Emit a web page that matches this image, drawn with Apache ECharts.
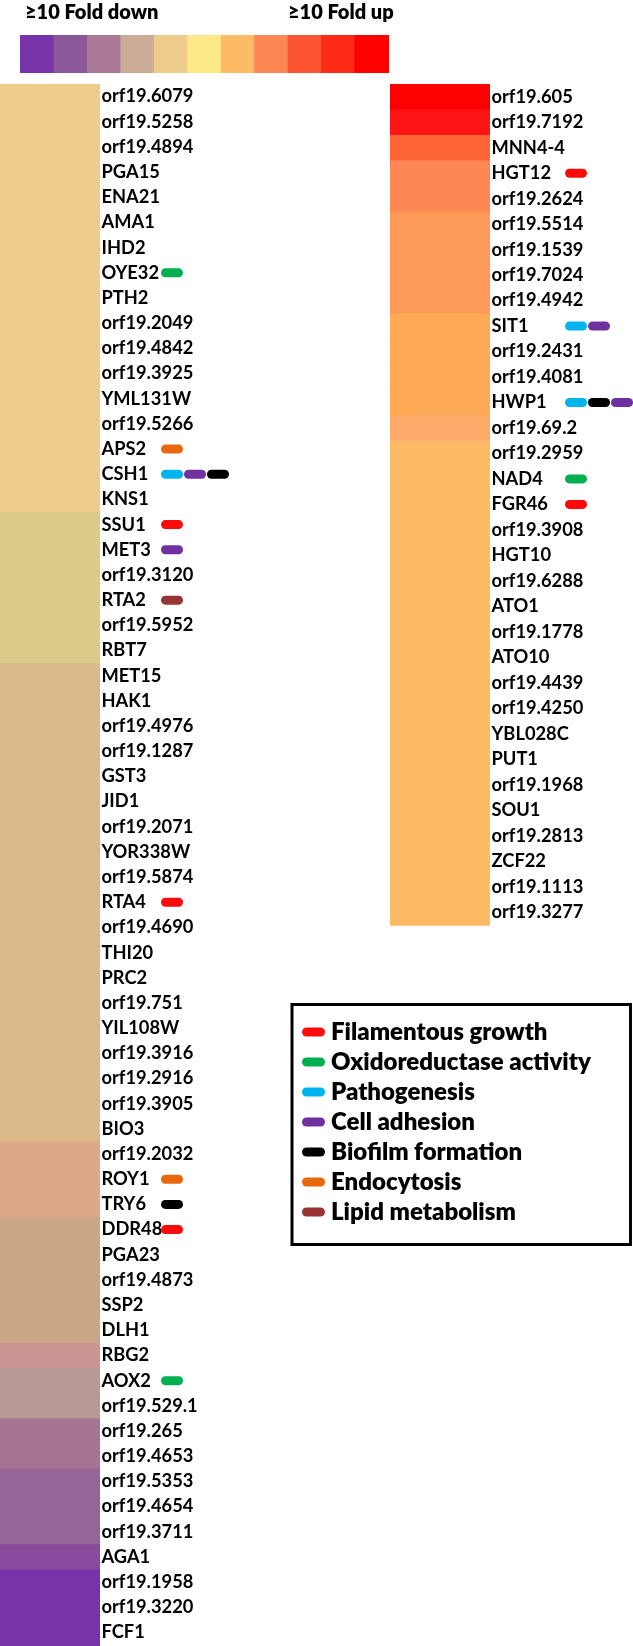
<!DOCTYPE html>
<html><head><meta charset="utf-8">
<script src="https://cdn.jsdelivr.net/npm/echarts@6/dist/echarts.min.js"></script>
<style>html,body{margin:0;padding:0;background:#fff}#c{width:633px;height:1646px}</style>
</head><body><div id="c"></div>
<script>
// ---- data ----
const scaleLevels = [-5,-4,-3,-2,-1,0,1,2,3,4,5];
const scaleTitles = ['≥10 Fold down','≥10 Fold up'];

const leftGenes = ['orf19.6079','orf19.5258','orf19.4894','PGA15','ENA21','AMA1','IHD2','OYE32','PTH2','orf19.2049','orf19.4842','orf19.3925','YML131W','orf19.5266','APS2','CSH1','KNS1','SSU1','MET3','orf19.3120','RTA2','orf19.5952','RBT7','MET15','HAK1','orf19.4976','orf19.1287','GST3','JID1','orf19.2071','YOR338W','orf19.5874','RTA4','orf19.4690','THI20','PRC2','orf19.751','YIL108W','orf19.3916','orf19.2916','orf19.3905','BIO3','orf19.2032','ROY1','TRY6','DDR48','PGA23','orf19.4873','SSP2','DLH1','RBG2','AOX2','orf19.529.1','orf19.265','orf19.4653','orf19.5353','orf19.4654','orf19.3711','AGA1','orf19.1958','orf19.3220','FCF1'];
const leftValues = [-1,-1,-1,-1,-1,-1,-1,-1,-1,-1,-1,-1,-1,-1,-1,-1,-1,
  -1.2,-1.2,-1.2,-1.2,-1.2,-1.2,
  -1.5,-1.5,-1.5,-1.5,-1.5,-1.5,-1.5,-1.5,-1.5,-1.5,-1.5,-1.5,-1.5,-1.5,-1.5,-1.5,-1.5,-1.5,-1.5,
  -1.7,-1.7,-1.7,
  -2.1,-2.1,-2.1,-2.1,-2.1,
  -2.4,
  -2.6,-2.6,
  -3.1,-3.1,
  -3.6,-3.6,-3.6,
  -4.3,
  -5,-5,-5];

const rightGenes = ['orf19.605','orf19.7192','MNN4-4','HGT12','orf19.2624','orf19.5514','orf19.1539','orf19.7024','orf19.4942','SIT1','orf19.2431','orf19.4081','HWP1','orf19.69.2','orf19.2959','NAD4','FGR46','orf19.3908','HGT10','orf19.6288','ATO1','orf19.1778','ATO10','orf19.4439','orf19.4250','YBL028C','PUT1','orf19.1968','SOU1','orf19.2813','ZCF22','orf19.1113','orf19.3277'];
const rightValues = [5,4.5,2.7,2,2,1.6,1.6,1.6,1.6,1.4,1.4,1.4,1.4,1.2,
  1,1,1,1,1,1,1,1,1,1,1,1,1,1,1,1,1,1,1];

const categories = ['Filamentous growth','Oxidoreductase activity','Pathogenesis','Cell adhesion','Biofilm formation','Endocytosis','Lipid metabolism'];
const leftAnnotations = {
  'OYE32':['Oxidoreductase activity'],
  'APS2':['Endocytosis'],
  'CSH1':['Pathogenesis','Cell adhesion','Biofilm formation'],
  'SSU1':['Filamentous growth'],
  'MET3':['Cell adhesion'],
  'RTA2':['Lipid metabolism'],
  'RTA4':['Filamentous growth'],
  'ROY1':['Endocytosis'],
  'TRY6':['Biofilm formation'],
  'DDR48':['Filamentous growth'],
  'AOX2':['Oxidoreductase activity']
};
const rightAnnotations = {
  'HGT12':['Filamentous growth'],
  'SIT1':['Pathogenesis','Cell adhesion'],
  'HWP1':['Pathogenesis','Biofilm formation','Cell adhesion'],
  'NAD4':['Oxidoreductase activity'],
  'FGR46':['Filamentous growth']
};

// ---- styles ----
const catColors = {
  'Filamentous growth':'#FF0A0A','Oxidoreductase activity':'#00B050','Pathogenesis':'#00B4F0',
  'Cell adhesion':'#7030A0','Biofilm formation':'#000000','Endocytosis':'#E8690C','Lipid metabolism':'#983434'
};
const levelColors = [
  [-5,'#7733AA'],[-4.3,'#884A9C'],[-4,'#8A5798'],[-3.6,'#95659A'],[-3.1,'#A67594'],[-3,'#A87895'],
  [-2.6,'#B79995'],[-2.4,'#C99492'],[-2.1,'#C8A686'],[-2,'#CCAA98'],[-1.7,'#DDA887'],[-1.5,'#DBB98A'],
  [-1.2,'#DBCB8B'],[-1,'#EECC8C'],[0,'#FDE98A'],[1,'#FDBB66'],[1.2,'#FDAA6A'],[1.4,'#FDA955'],
  [1.6,'#FD9A58'],[2,'#FD8855'],[2.7,'#FD6436'],[3,'#FD5533'],[4,'#FD2A18'],[4.5,'#FD1515'],[5,'#FF0000']
];
const FONT = 'Lato';
const pill = 'path://M4.5,0H18.5A4.5,4.5,0,0,1,18.5,9H4.5A4.5,4.5,0,0,1,4.5,0Z';

const chart = echarts.init(document.getElementById('c'), null, {renderer:'canvas'});

const RROW = 25.48;
const grids = [
  {left:0, top:84, width:100, height:1561},                 // 0 left heatmap
  {left:172, top:84, width:46, height:1561},                // 1 left markers
  {left:390, top:84, width:100, height:33*RROW},            // 2 right heatmap
  {left:576, top:84, width:46, height:33*RROW},             // 3 right markers
  {left:20, top:35, width:368, height:38}                   // 4 scale bar
];
const hidden = {show:false};
const catY = (data, gi, showLabels) => ({
  type:'category', data, inverse:true, gridIndex:gi, position:'right',
  axisLine:hidden, axisTick:hidden, splitLine:hidden,
  axisLabel: showLabels ? {show:true, interval:0, margin:1.5, fontFamily:FONT, fontWeight:'bold', fontSize:18.3, color:'#000'} : hidden
});
const xAxes = [
  {type:'category', data:['v'], gridIndex:0, show:false},
  {type:'value', min:0, max:2, gridIndex:1, show:false},
  {type:'category', data:['v'], gridIndex:2, show:false},
  {type:'value', min:0, max:2, gridIndex:3, show:false},
  {type:'category', data:scaleLevels.map(String), gridIndex:4, show:false}
];
const yAxes = [
  catY(leftGenes,0,true), catY(leftGenes,1,false),
  catY(rightGenes,2,true), catY(rightGenes,3,false),
  {type:'category', data:['s'], gridIndex:4, show:false}
];

// cell renderer: a rect per category cell, overlapping by 1px to avoid seams
function cell(horizontal){
  return function(params, api){
    const c = api.coord([api.value(0), api.value(1)]);
    const s = api.size([1,1]);
    return {type:'rect',
      shape:{x:c[0]-s[0]/2, y:c[1]-s[1]/2, width:s[0]+(horizontal?1:0), height:s[1]+(horizontal?0:1)},
      style:{fill:api.visual('color')}};
  };
}
const series = [
  {type:'custom', xAxisIndex:0, yAxisIndex:0, renderItem:cell(false), data:leftGenes.map((g,i)=>[0,i,leftValues[i]]), encode:{x:0,y:1}},
  {type:'custom', xAxisIndex:2, yAxisIndex:2, renderItem:cell(false), data:rightGenes.map((g,i)=>[0,i,rightValues[i]]), encode:{x:0,y:1}},
  {type:'custom', xAxisIndex:4, yAxisIndex:4, renderItem:cell(true), data:scaleLevels.map((v,i)=>[i,0,v]), encode:{x:0,y:1}}
];
function markerSeries(ann, xi, yi){
  categories.forEach(cat=>{
    const data=[];
    Object.keys(ann).forEach(g=>{ ann[g].forEach((c,k)=>{ if(c===cat) data.push([k,g]); }); });
    series.push({type:'scatter', name:cat, xAxisIndex:xi, yAxisIndex:yi, data,
      symbol:pill, symbolSize:[22,9], itemStyle:{color:catColors[cat], opacity:1}, silent:true});
  });
}
markerSeries(leftAnnotations,1,1);
markerSeries(rightAnnotations,3,3);

chart.setOption({
  animation:false,
  grid:grids, xAxis:xAxes, yAxis:yAxes, series,
  visualMap:{type:'piecewise', show:false, seriesIndex:[0,1,2], dimension:2,
    pieces:levelColors.map(([v,c])=>({value:v, color:c}))},
  title:[
    {text:scaleTitles[0], left:20, top:-2, textStyle:{fontFamily:FONT, fontWeight:800, fontSize:20, color:'#000'}},
    {text:scaleTitles[1], left:283, top:-2, textStyle:{fontFamily:FONT, fontWeight:800, fontSize:20, color:'#000'}}
  ],
  legend:{data:categories, orient:'vertical', left:302, top:1020, itemWidth:23, itemHeight:10,
    itemGap:6, icon:pill, selectedMode:false, padding:0,
    textStyle:{fontFamily:FONT, fontWeight:800, fontSize:24, color:'#000', padding:[0,0,0,1]}},
  graphic:[{type:'rect', shape:{x:292, y:1004.5, width:338.5, height:240}, style:{fill:'none', stroke:'#000', lineWidth:3}}]
});
</script></body></html>
